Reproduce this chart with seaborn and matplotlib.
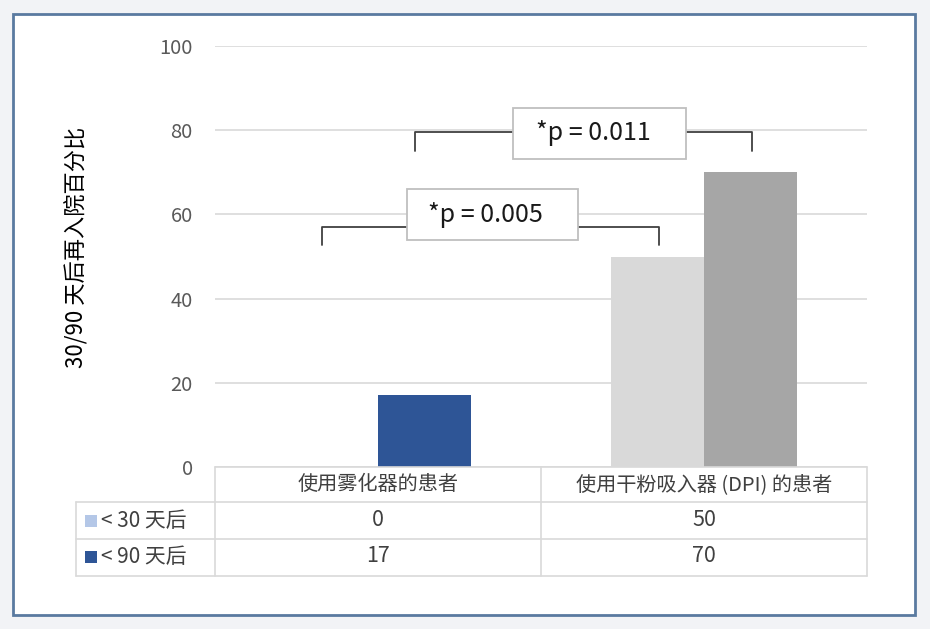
import matplotlib
matplotlib.use("Agg")
import matplotlib.pyplot as plt
import pandas as pd
import seaborn as sns
from matplotlib.patches import Rectangle

# 数据
groups = ["使用雾化器的患者", "使用干粉吸入器 (DPI) 的患者"]
periods = ["< 30 天后", "< 90 天后"]
within_30 = [0, 50]
within_90 = [17, 70]
p_labels = ["*p = 0.005", "*p = 0.011"]
y_label = "30/90 天后再入院百分比"

sns.set_style("white")
plt.rcParams["font.family"] = ["Noto Sans CJK SC", "DejaVu Sans"]

W, H = 930, 629
fig = plt.figure(figsize=(W / 100, H / 100), dpi=100, facecolor="#f2f3f6")


def fx(x):
    return x / W


def fy(y):
    return 1 - y / H


# 外框
fig.patches.append(Rectangle((fx(13), fy(615)), fx(915) - fx(13), fy(14) - fy(615),
                             transform=fig.transFigure, facecolor="white",
                             edgecolor="#5a7aa0", lw=2, zorder=-10))

ax = fig.add_axes([fx(215), fy(467), fx(867) - fx(215), fy(46) - fy(467)])
ax.set_facecolor("none")

df = pd.DataFrame({
    "group": groups * 2,
    "period": [periods[0]] * 2 + [periods[1]] * 2,
    "value": within_30 + within_90,
})
sns.barplot(data=df, x="group", y="value", hue="period", order=groups, hue_order=periods,
            width=0.57, legend=False, ax=ax, saturation=1, zorder=3)

bar_colors = {periods[0]: ["#b4c7e7", "#d9d9d9"], periods[1]: ["#2e5596", "#a6a6a6"]}
for cont, per in zip(ax.containers, periods):
    for bar, c in zip(cont, bar_colors[per]):
        bar.set_facecolor(c)
        bar.set_edgecolor("none")

ax.set_xlim(-0.5, 1.5)
ax.set_ylim(0, 100)
ax.set_yticks(range(0, 101, 20))
ax.yaxis.grid(True, color="#d9d9d9", lw=1.2, zorder=0)
ax.set_axisbelow(True)
for s in ax.spines.values():
    s.set_visible(False)
ax.set_xticks([])
ax.set_xlabel("")
ax.set_ylabel("")
ax.tick_params(axis="y", length=0, pad=16, labelsize=14.5, labelcolor="#595959")
fig.text(fx(77), fy(247), y_label, rotation=90, ha="center", va="center", fontsize=16, color="black")


# 显著性括号
def bracket(x0, x1, y_top, y_leg, bx0, bx1, by0, by1, label):
    ax.plot([x0, x0, x1, x1], [y_leg, y_top, y_top, y_leg], color="#404040", lw=1.3,
            solid_joinstyle="round", zorder=5, clip_on=False)
    ax.add_patch(Rectangle((bx0, by0), bx1 - bx0, by1 - by0, facecolor="white",
                           edgecolor="#bfbfbf", lw=1.3, zorder=6, clip_on=False))
    ax.text((bx0 + bx1) / 2 - 0.02, (by0 + by1) / 2, label, ha="center", va="center",
            fontsize=18, color="#1a1a1a", fontweight="medium", zorder=7)


bracket(-0.172, 0.862, 57.0, 52.7, 0.089, 0.613, 53.9, 66.0, p_labels[0])
bracket(0.113, 1.147, 79.6, 75.1, 0.414, 0.945, 73.2, 85.3, p_labels[1])

# 数据表
line_kw = dict(color="#d9d9d9", lw=1.2, transform=fig.transFigure)
for y, xa in [(467, 215), (502, 76), (539, 76), (576, 76)]:
    fig.add_artist(plt.Line2D([fx(xa), fx(867)], [fy(y), fy(y)], **line_kw))
for x, ya in [(76, 502), (215, 467), (541, 467), (867, 467)]:
    fig.add_artist(plt.Line2D([fx(x), fx(x)], [fy(ya), fy(576)], **line_kw))

col_x = [378, 704]
row_y = [484.5, 520.5, 556.5]
tcolor = "#404040"
for cx, g in zip(col_x, groups):
    fig.text(fx(cx), fy(row_y[0]), g, ha="center", va="center", fontsize=14.5, color=tcolor)
for ry, per, vals in zip(row_y[1:], periods, [within_30, within_90]):
    fig.patches.append(Rectangle((fx(85), fy(ry + 6)), fx(12), 12 / H, transform=fig.transFigure,
                                 facecolor=bar_colors[per][0], edgecolor="none"))
    fig.text(fx(101), fy(ry), per, ha="left", va="center", fontsize=15, color=tcolor)
    for cx, v in zip(col_x, vals):
        fig.text(fx(cx), fy(ry), str(v), ha="center", va="center", fontsize=15.5, color=tcolor)

fig.savefig("out.png", dpi=100, facecolor=fig.get_facecolor())
